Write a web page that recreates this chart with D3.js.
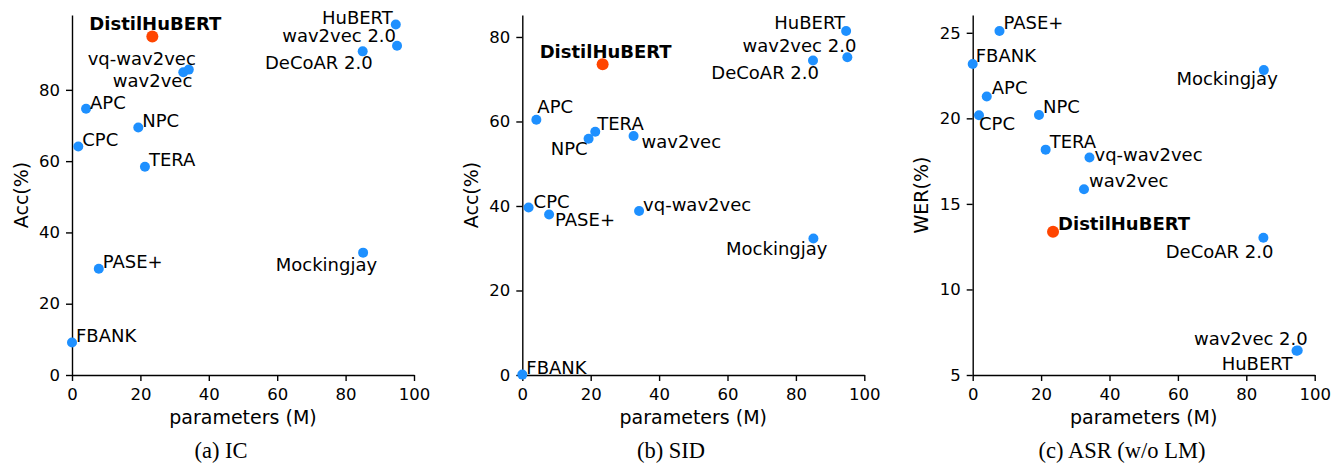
<!DOCTYPE html>
<html>
<head>
<meta charset="utf-8">
<script src="https://cdn.jsdelivr.net/npm/d3@7"></script>
<style>
  body { margin: 0; background: #fff; }
  svg { display: block; }
  .tick text { font-family: "DejaVu Sans", sans-serif; font-size: 16.5px; fill: #000; }
</style>
</head>
<body>
<svg id="chart" width="1334" height="464"></svg>
<script>
// models and their size (M params)
var models = ["FBANK", "PASE+", "APC", "NPC", "Mockingjay", "TERA", "CPC",
              "wav2vec", "vq-wav2vec", "wav2vec 2.0", "HuBERT", "DeCoAR 2.0", "DistilHuBERT"];
var params = [0, 7.83, 4.11, 19.38, 85.12, 21.33, 1.84, 32.54, 34.15, 95.04, 94.68, 85.0, 23.49];

// task scores
var icAcc  = [9.10, 29.82, 74.69, 69.44, 34.33, 58.42, 64.09, 84.92, 85.68, 92.35, 98.34, 90.80, 94.99];
var sidAcc = [0.09, 37.99, 60.42, 55.92, 32.29, 57.57, 39.63, 56.56, 38.80, 75.18, 81.42, 74.42, 73.54];
var asrWer = [23.18, 25.11, 21.28, 20.20, 22.82, 18.17, 20.18, 15.86, 17.71, 6.43, 6.42, 13.02, 13.37];

var xTicks = [0, 20, 40, 60, 80, 100];
var icTicks = [0, 20, 40, 60, 80];
var sidTicks = [0, 20, 40, 60, 80];
var asrTicks = [5, 10, 15, 20, 25];

// label placement: [anchor, dx, dy] in px from the point
var icLabels = {
    "HuBERT": ["end", -3, 0], "wav2vec 2.0": ["end", -1, -4], "DeCoAR 2.0": ["end", 10, 18],
    "DistilHuBERT": ["middle", 3, -6], "vq-wav2vec": ["end", 7, -5], "wav2vec": ["end", 9, 15],
    "APC": ["start", 4, 0], "NPC": ["start", 4, 0], "CPC": ["start", 4, -1], "TERA": ["start", 4, -1],
    "PASE+": ["start", 4, -1], "Mockingjay": ["end", 14, 18], "FBANK": ["start", 4, -1]
};
var sidLabels = {
    "HuBERT": ["end", -1, -2], "wav2vec 2.0": ["end", 9, -5], "DeCoAR 2.0": ["end", 6, 18],
    "DistilHuBERT": ["middle", 3, -6], "APC": ["start", 1, -7], "TERA": ["start", 2, -2],
    "NPC": ["end", -1, 16], "wav2vec": ["start", 8, 12], "CPC": ["start", 5, 0],
    "PASE+": ["start", 6, 12], "vq-wav2vec": ["start", 4, 0], "Mockingjay": ["end", 14, 16],
    "FBANK": ["start", 4, -1]
};
var asrLabels = {
    "PASE+": ["start", 4, -2], "FBANK": ["start", 3, -2], "Mockingjay": ["end", 14, 15],
    "APC": ["start", 5, -2], "NPC": ["start", 4, -2], "CPC": ["start", 0, 15],
    "TERA": ["start", 4, -2], "vq-wav2vec": ["start", 5, 3], "wav2vec": ["start", 5, -2],
    "DistilHuBERT": ["start", 5, -2], "DeCoAR 2.0": ["end", 10, 20],
    "wav2vec 2.0": ["end", 10, -6], "HuBERT": ["end", -4, 19]
};

var panels = [
    { left: 72,    yDomain: [0, 101],  ticks: icTicks,  values: icAcc,  labels: icLabels,  ylabel: "Acc(%)", caption: "(a) IC",           capX: 221 },
    { left: 522.3, yDomain: [0, 85.2], ticks: sidTicks, values: sidAcc, labels: sidLabels, ylabel: "Acc(%)", caption: "(b) SID",          capX: 671 },
    { left: 972.7, yDomain: [5, 26.04], ticks: asrTicks, values: asrWer, labels: asrLabels, ylabel: "WER(%)", caption: "(c) ASR (w/o LM)", capX: 1122 }
];

var svg = d3.select("#chart");
var plotW = 342, plotTop = 15, plotBottom = 375;

panels.forEach(function(p) {
    var x = d3.scaleLinear().domain([0, 100]).range([p.left, p.left + plotW]);
    var y = d3.scaleLinear().domain(p.yDomain).range([plotBottom, plotTop]);

    var g = svg.append("g");

    var xAxis = g.append("g")
        .attr("transform", "translate(0," + plotBottom + ")")
        .call(d3.axisBottom(x).tickValues(xTicks).tickSize(6).tickSizeOuter(0).tickPadding(7).tickFormat(d3.format("d")));
    var yAxis = g.append("g")
        .attr("transform", "translate(" + p.left + ",0)")
        .call(d3.axisLeft(y).tickValues(p.ticks).tickSize(6).tickSizeOuter(0).tickPadding(6).tickFormat(d3.format("d")));
    [xAxis, yAxis].forEach(function(a) {
        a.attr("font-family", null).attr("font-size", null);
        a.select(".domain").attr("stroke", "#000").attr("stroke-width", 1.4);
        a.selectAll(".tick line").attr("stroke", "#000").attr("stroke-width", 1.4);
    });

    g.append("text")
        .attr("x", p.left + plotW / 2).attr("y", 424)
        .attr("text-anchor", "middle")
        .attr("font-family", "DejaVu Sans").attr("font-size", "19px")
        .text("parameters (M)");

    g.append("text")
        .attr("transform", "translate(" + (p.left - 51) + "," + ((plotTop + plotBottom) / 2) + ") rotate(-90)")
        .attr("text-anchor", "middle").attr("dy", "0.35em")
        .attr("font-family", "DejaVu Sans").attr("font-size", "19px")
        .text(p.ylabel);

    g.append("text")
        .attr("x", p.capX).attr("y", 458)
        .attr("text-anchor", "middle")
        .attr("font-family", "Liberation Serif").attr("font-size", "22.5px")
        .text(p.caption);

    var pts = models.map(function(m, i) { return { name: m, px: params[i], v: p.values[i] }; });

    g.selectAll("circle.pt")
        .data(pts)
        .enter().append("circle")
        .attr("class", "pt")
        .attr("cx", function(d) { return x(d.px); })
        .attr("cy", function(d) { return y(d.v); })
        .attr("r", function(d) { return d.name == "DistilHuBERT" ? 6 : 5; })
        .attr("fill", function(d) { return d.name == "DistilHuBERT" ? "#ff4500" : "#1e90ff"; });

    g.selectAll("text.lbl")
        .data(pts)
        .enter().append("text")
        .attr("class", "lbl")
        .attr("x", function(d) { return x(d.px) + p.labels[d.name][1]; })
        .attr("y", function(d) { return y(d.v) + p.labels[d.name][2]; })
        .attr("text-anchor", function(d) { return p.labels[d.name][0]; })
        .attr("font-family", "DejaVu Sans").attr("font-size", "18px")
        .attr("font-weight", function(d) { return d.name == "DistilHuBERT" ? "bold" : "normal"; })
        .text(function(d) { return d.name; });
});
</script>
</body>
</html>
